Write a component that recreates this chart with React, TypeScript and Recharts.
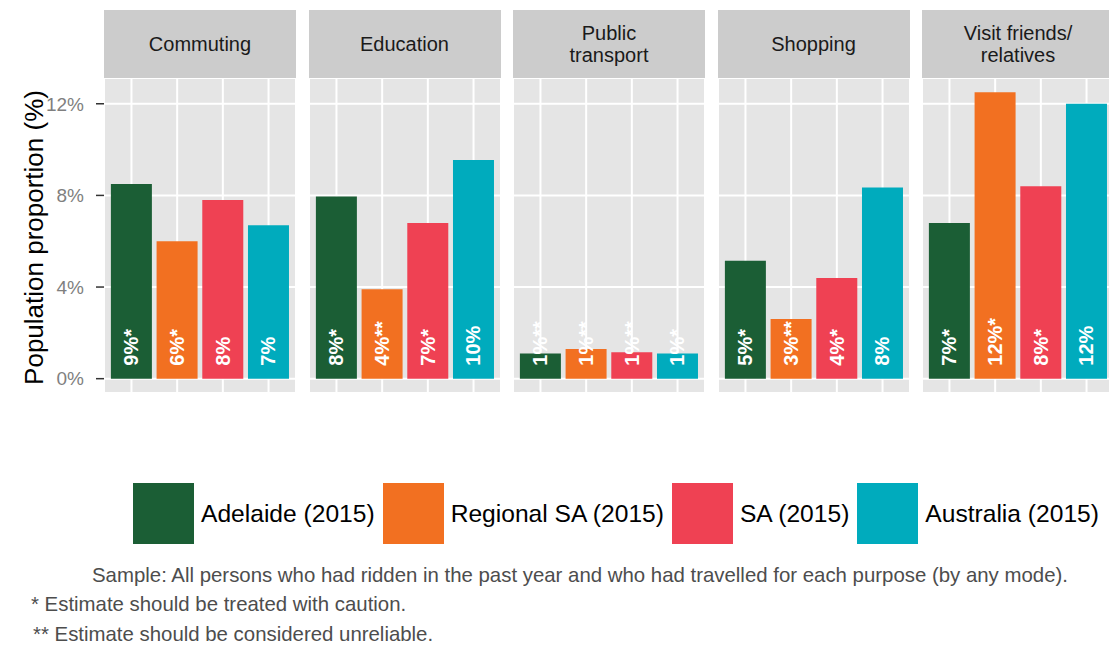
import React from 'react';
import { Bar, BarChart, CartesianGrid, Cell, LabelList, XAxis, YAxis } from 'recharts';

const purposes = ['Commuting', 'Education', 'Public\ntransport', 'Shopping', 'Visit friends/\nrelatives'];
const regions = ['Adelaide (2015)', 'Regional SA (2015)', 'SA (2015)', 'Australia (2015)'];
const colors = ['#1b5e35', '#f27021', '#ef4153', '#00abbd'];

// values per purpose, in %
const adelaide = [8.5, 7.95, 1.1, 5.15, 6.8];
const regionalSA = [6.0, 3.9, 1.3, 2.6, 12.5];
const sa = [7.8, 6.8, 1.15, 4.4, 8.4];
const australia = [6.7, 9.55, 1.1, 8.35, 12.0];

const adelaideLabels = ['9%*', '8%*', '1%**', '5%*', '7%*'];
const regionalLabels = ['6%*', '4%**', '1%**', '3%**', '12%*'];
const saLabels = ['8%', '7%*', '1%**', '4%*', '8%*'];
const australiaLabels = ['7%', '10%', '1%*', '8%', '12%'];

const majorTicks = [0, 4, 8, 12];
const minorTicks = [2, 6, 10];
const yDomain = [-0.625, 13.125];

const notes = [
  'Sample: All persons who had ridden in the past year and who had travelled for each purpose (by any mode).',
  '* Estimate should be treated with caution.',
  '** Estimate should be considered unreliable.',
];

const FONT = '"Liberation Sans", Arial, sans-serif';
const PANEL_W = 192;
const PANEL_TOP = 78;
const PANEL_H = 315;
const AXIS_W = 104;

const series = [adelaide, regionalSA, sa, australia];
const seriesLabels = [adelaideLabels, regionalLabels, saLabels, australiaLabels];

function facetData(i: number) {
  return regions.map((r, j) => ({ region: r, value: series[j][i], label: seriesLabels[j][i] }));
}

const BarLabel = (props: any) => {
  const { x, y, width, height, value } = props;
  const cx = x + width / 2;
  const by = y + height - 13;
  return (
    <text
      x={cx}
      y={by}
      transform={`rotate(-90, ${cx}, ${by})`}
      textAnchor="start"
      dominantBaseline="central"
      fill="#ffffff"
      fontSize={20}
      fontWeight="bold"
      fontFamily={FONT}
    >
      {value}
    </text>
  );
};

const YLabel = (props: any) => {
  const vb = props.viewBox || { x: 0, y: 0, width: 0, height: 0 };
  const cx = vb.x + 34;
  const cy = vb.y + vb.height / 2 + 2;
  return (
    <text
      x={cx}
      y={cy}
      transform={`rotate(-90, ${cx}, ${cy})`}
      textAnchor="middle"
      dominantBaseline="central"
      fill="#000000"
      fontSize={26}
      fontFamily={FONT}
    >
      Population proportion (%)
    </text>
  );
};

function Panel({ index }: { index: number }) {
  const first = index === 0;
  const left = 104 + index * 204.5 - (first ? AXIS_W : 0);
  const width = PANEL_W + (first ? AXIS_W : 0);
  return (
    <div style={{ position: 'absolute', left, top: PANEL_TOP }}>
      <BarChart
        width={width}
        height={PANEL_H}
        data={facetData(index)}
        margin={{ top: 0, right: 0, bottom: 0, left: 0 }}
        barCategoryGap="5%"
      >
        <XAxis dataKey="region" hide interval={0} padding={{ left: 4.6, right: 4.6 }} />
        <YAxis
          yAxisId="major"
          domain={yDomain}
          ticks={majorTicks}
          type="number"
          hide={!first}
          width={first ? AXIS_W : 0}
          axisLine={false}
          tickLine={{ stroke: '#333333', strokeWidth: 1.5 }}
          tickSize={8}
          tickMargin={12}
          tick={{ fill: '#7f7f7f', fontSize: 19, fontFamily: FONT }}
          tickFormatter={(v: number) => `${v}%`}
          label={first ? { content: YLabel } : undefined}
        />
        <YAxis yAxisId="minor" domain={yDomain} ticks={minorTicks} type="number" hide width={0} />
        <CartesianGrid yAxisId="minor" vertical={false} stroke="#f2f2f2" strokeWidth={1} fill="#e5e5e5" />
        <CartesianGrid yAxisId="major" stroke="#ffffff" strokeWidth={2} />
        <Bar yAxisId="major" dataKey="value" isAnimationActive={false}>
          {regions.map((r, j) => (
            <Cell key={r} fill={colors[j]} />
          ))}
          <LabelList dataKey="label" content={BarLabel} />
        </Bar>
      </BarChart>
    </div>
  );
}

export default function App() {
  return (
    <div
      style={{
        position: 'relative',
        width: 1109,
        height: 646,
        overflow: 'hidden',
        background: '#ffffff',
        fontFamily: FONT,
      }}
    >
      <style>{'body{margin:0}'}</style>
      {purposes.map((p, i) => (
        <div
          key={p}
          style={{
            position: 'absolute',
            left: 104 + i * 204.5,
            top: 10,
            width: PANEL_W,
            height: PANEL_TOP - 10,
            background: '#cccccc',
            display: 'flex',
            alignItems: 'center',
            justifyContent: 'center',
            textAlign: 'center',
            whiteSpace: 'pre-line',
            fontSize: 20,
            lineHeight: '22px',
            color: '#1a1a1a',
          }}
        >
          {p}
        </div>
      ))}
      {purposes.map((p, i) => (
        <Panel key={p} index={i} />
      ))}
      <div style={{ position: 'absolute', left: 133, top: 483, display: 'flex', alignItems: 'center' }}>
        {regions.map((r, j) => (
          <div key={r} style={{ display: 'flex', alignItems: 'center', marginRight: 8 }}>
            <div style={{ width: 61, height: 61, background: colors[j], marginRight: 7 }} />
            <span style={{ fontSize: 24.6, color: '#000000', whiteSpace: 'nowrap' }}>{r}</span>
          </div>
        ))}
      </div>
      <div style={{ position: 'absolute', left: 92, top: 563, fontSize: 20.4, lineHeight: '24px', color: '#4d4d4d', whiteSpace: 'nowrap' }}>
        {notes[0]}
      </div>
      <div style={{ position: 'absolute', left: 31, top: 592, fontSize: 20.4, lineHeight: '24px', color: '#4d4d4d', whiteSpace: 'nowrap' }}>
        {notes[1]}
      </div>
      <div style={{ position: 'absolute', left: 33, top: 622, fontSize: 20.4, lineHeight: '24px', color: '#4d4d4d', whiteSpace: 'nowrap' }}>
        {notes[2]}
      </div>
    </div>
  );
}
